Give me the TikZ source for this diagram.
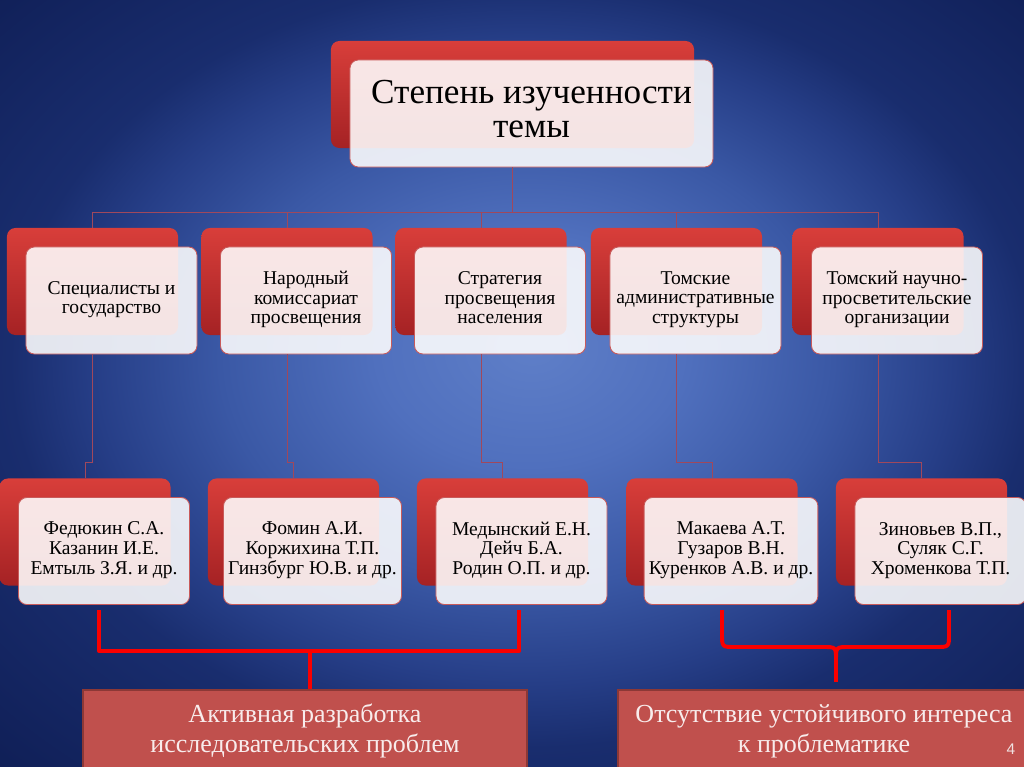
\documentclass[tikz,border=0pt]{standalone}
\usepackage{fontspec}
\setmainfont{Liberation Serif}
\newfontfamily\pagefont{Liberation Sans}
\usepackage{tikz}

\definecolor{bgA}{RGB}{95,127,200}
\definecolor{bgB}{RGB}{80,112,190}
\definecolor{bgC}{RGB}{58,88,165}
\definecolor{bgD}{RGB}{38,62,135}
\definecolor{bgE}{RGB}{25,45,110}
\definecolor{bgF}{RGB}{15,30,85}
\definecolor{redtop}{RGB}{216,62,58}
\definecolor{redbot}{RGB}{165,34,36}
\definecolor{boxline}{RGB}{200,90,90}
\definecolor{resfill}{RGB}{192,80,77}
\definecolor{resline}{RGB}{140,56,54}
\definecolor{restext}{RGB}{248,236,236}
\definecolor{linkcol}{RGB}{160,72,92}
\definecolor{brred}{RGB}{250,0,0}
\definecolor{pagecol}{RGB}{240,225,225}
\pgfdeclareradialshading{slidebg}{\pgfpoint{1bp}{2.5bp}}{color(0bp)=(bgA); color(7.5bp)=(bgB); color(15bp)=(bgC); color(21bp)=(bgD); color(25bp)=(bgE); color(37bp)=(bgF); color(50bp)=(bgF)}

\begin{document}
\begin{tikzpicture}[x=0.025cm,y=-0.025cm,
  back/.style={rounded corners=6pt,minimum width=4.275cm,minimum height=2.675cm,top color=redtop,bottom color=redbot},
  front/.style={rounded corners=6pt,minimum width=4.275cm,minimum height=2.675cm,fill=white,fill opacity=0.88,text opacity=1,draw=boxline,line width=0.6pt,align=center,font=\fontsize{13.9pt}{13.9pt}\selectfont,execute at begin node=\strut,execute at end node=\strut},
  result/.style={fill=resfill,draw=resline,line width=1.4pt,minimum height=2.05cm,align=center,text=restext,font=\fontsize{18.5pt}{21.3pt}\selectfont},
  link/.style={draw=linkcol,line width=0.7pt},
  bracket/.style={draw=brred,line width=2.8pt,line join=round}]
  \useasboundingbox (0,0) rectangle (1024,767);
  \clip (0,0) rectangle (1024,767);
  \shade[shading=slidebg] (0,0) rectangle (1024,767);

  % title
  \node[back,minimum width=9.075cm] (t0b) at (512.5,94.5) {};
  \node[front,minimum width=9.075cm,font=\fontsize{25pt}{24.2pt}\selectfont] (t0) at (531.5,113.5) {Степень изученности\\темы};

  % second row
  \node[back] (s1b) at (92.5,281.5) {};
  \node[front] (s1) at (111.5,300.5) {Специалисты и\\государство};
  \node[back] (s2b) at (287,281.5) {};
  \node[front] (s2) at (306,300.5) {Народный\\комиссариат\\просвещения};
  \node[back] (s3b) at (481,281.5) {};
  \node[front] (s3) at (500,300.5) {Стратегия\\просвещения\\населения};
  \node[back] (s4b) at (676.5,281.5) {};
  \node[front] (s4) at (695.5,300.5) {Томские\\административные\\структуры};
  \node[back] (s5b) at (878,281.5) {};
  \node[front] (s5) at (897,300.5) {Томский научно-\\просветительские\\организации};

  % names row
  \node[back] (n1b) at (85,532) {};
  \node[front] (n1) at (104,551) {Федюкин С.А.\\Казанин И.Е.\\Емтыль З.Я. и др.};
  \node[back] (n2b) at (293.5,532) {};
  \node[front] (n2) at (312.5,551) {Фомин А.И.\\Коржихина Т.П.\\Гинзбург Ю.В. и др.};
  \node[back] (n3b) at (502.5,532) {};
  \node[front] (n3) at (521.5,551) {Медынский Е.Н.\\Дейч Б.А.\\Родин О.П. и др.};
  \node[back] (n4b) at (712,532) {};
  \node[front] (n4) at (731,551) {Макаева А.Т.\\Гузаров В.Н.\\Куренков А.В. и др.};
  \node[back] (n5b) at (921.5,532) {};
  \node[front] (n5) at (940.5,551) {Зиновьев В.П.,\\Суляк С.Г.\\Хроменкова Т.П.};

  % results
  \node[result,minimum width=11.1cm] (r1) at (305,731) {Активная разработка\\исследовательских проблем};
  \node[result,minimum width=10.3cm] (r2) at (824,731) {Отсутствие устойчивого интереса\\к проблематике};
  \node[font=\pagefont\fontsize{11pt}{11pt}\selectfont,text=pagecol] (pg) at (1011,749) {4};

  % thin links
  \coordinate (bus) at (0,212);
  \coordinate (step) at (0,462);
  \draw[link] (t0b |- t0.south) -- (t0b |- bus);
  \draw[link] (s1b |- bus) -- (s5b |- bus);
  \draw[link] (s1b |- bus) -- (s1b.north);
  \draw[link] (s2b |- bus) -- (s2b.north);
  \draw[link] (s3b |- bus) -- (s3b.north);
  \draw[link] (s4b |- bus) -- (s4b.north);
  \draw[link] (s5b |- bus) -- (s5b.north);
  \draw[link] (s1b |- s1.south) -- (s1b |- step) -| (n1b.north);
  \draw[link] (s2b |- s2.south) -- (s2b |- step) -| (n2b.north);
  \draw[link] (s3b |- s3.south) -- (s3b |- step) -| (n3b.north);
  \draw[link] (s4b |- s4.south) -- (s4b |- step) -| (n4b.north);
  \draw[link] (s5b |- s5.south) -- (s5b |- step) -| (n5b.north);

  % brackets
  \coordinate (lbl) at (99,610);
  \coordinate (lbr) at (519,610);
  \coordinate (lbm) at (310,651);
  \draw[bracket] (lbl) |- (lbm) -| (lbr);
  \draw[bracket] (lbm) -- (lbm |- r1.north);
  \coordinate (rbl) at (722,610);
  \coordinate (rbr) at (949,610);
  \coordinate (rbm) at (836,660);
  \draw[bracket] (rbl) -- (722,634) .. controls (722,647) .. (735,647) -- (823,647) .. controls (836,647) .. (rbm) -- ([yshift=5pt]r2.north -| rbm);
  \draw[bracket] (rbm) .. controls (836,647) .. (849,647) -- (936,647) .. controls (949,647) .. (949,634) -- (rbr);
\end{tikzpicture}
\end{document}
